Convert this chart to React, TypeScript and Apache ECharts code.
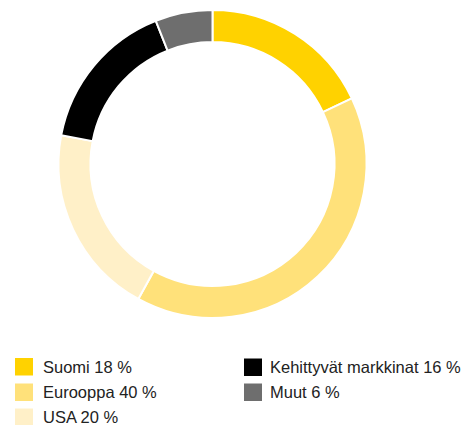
import React, { useEffect, useRef } from "react";
import * as echarts from "echarts";

const categories = ["Suomi", "Eurooppa", "USA", "Kehittyvät markkinat", "Muut"];
const values = [18, 40, 20, 16, 6];
const colors = ["#FFD200", "#FFE17A", "#FFF0C8", "#000000", "#6E6E6E"];

const legendLeft = [13, 13, 13, 242, 242];
const legendTop = [356, 381.5, 406.5, 356.5, 381.5];
const legendTextPad = [4, 4, 4, 2, 2];

export default function App() {
  const ref = useRef<HTMLDivElement>(null);
  useEffect(() => {
    const chart = echarts.init(ref.current!, null, { renderer: "svg" });
    const data = categories.map((c, i) => ({
      name: c,
      value: values[i],
      itemStyle: { color: colors[i] },
    }));
    const labelOf = (name: string) => {
      const i = categories.indexOf(name);
      return `${name} ${values[i]} %`;
    };
    const legends = categories.map((c, i) => ({
      orient: "vertical" as const,
      left: legendLeft[i],
      top: legendTop[i],
      itemWidth: 20,
      itemHeight: 19.5,
      icon: "rect",
      formatter: labelOf,
      textStyle: {
        fontFamily: "Liberation Sans",
        fontSize: 16.5,
        color: "#222",
        padding: [0, 0, 0, legendTextPad[i]],
      },
      padding: 0,
      selectedMode: false,
      data: [c],
    }));
    chart.setOption({
      animation: false,
      legend: legends,
      series: [
        {
          type: "pie",
          center: [212.5, 164],
          radius: [122, 154],
          startAngle: 90,
          clockwise: true,
          label: { show: false },
          labelLine: { show: false },
          emphasis: { disabled: true },
          itemStyle: { borderColor: "#fff", borderWidth: 2 },
          data,
        },
      ],
    });
    return () => chart.dispose();
  }, []);
  return <div ref={ref} style={{ position: "absolute", left: 0, top: 0, width: 465, height: 425 }} />;
}
